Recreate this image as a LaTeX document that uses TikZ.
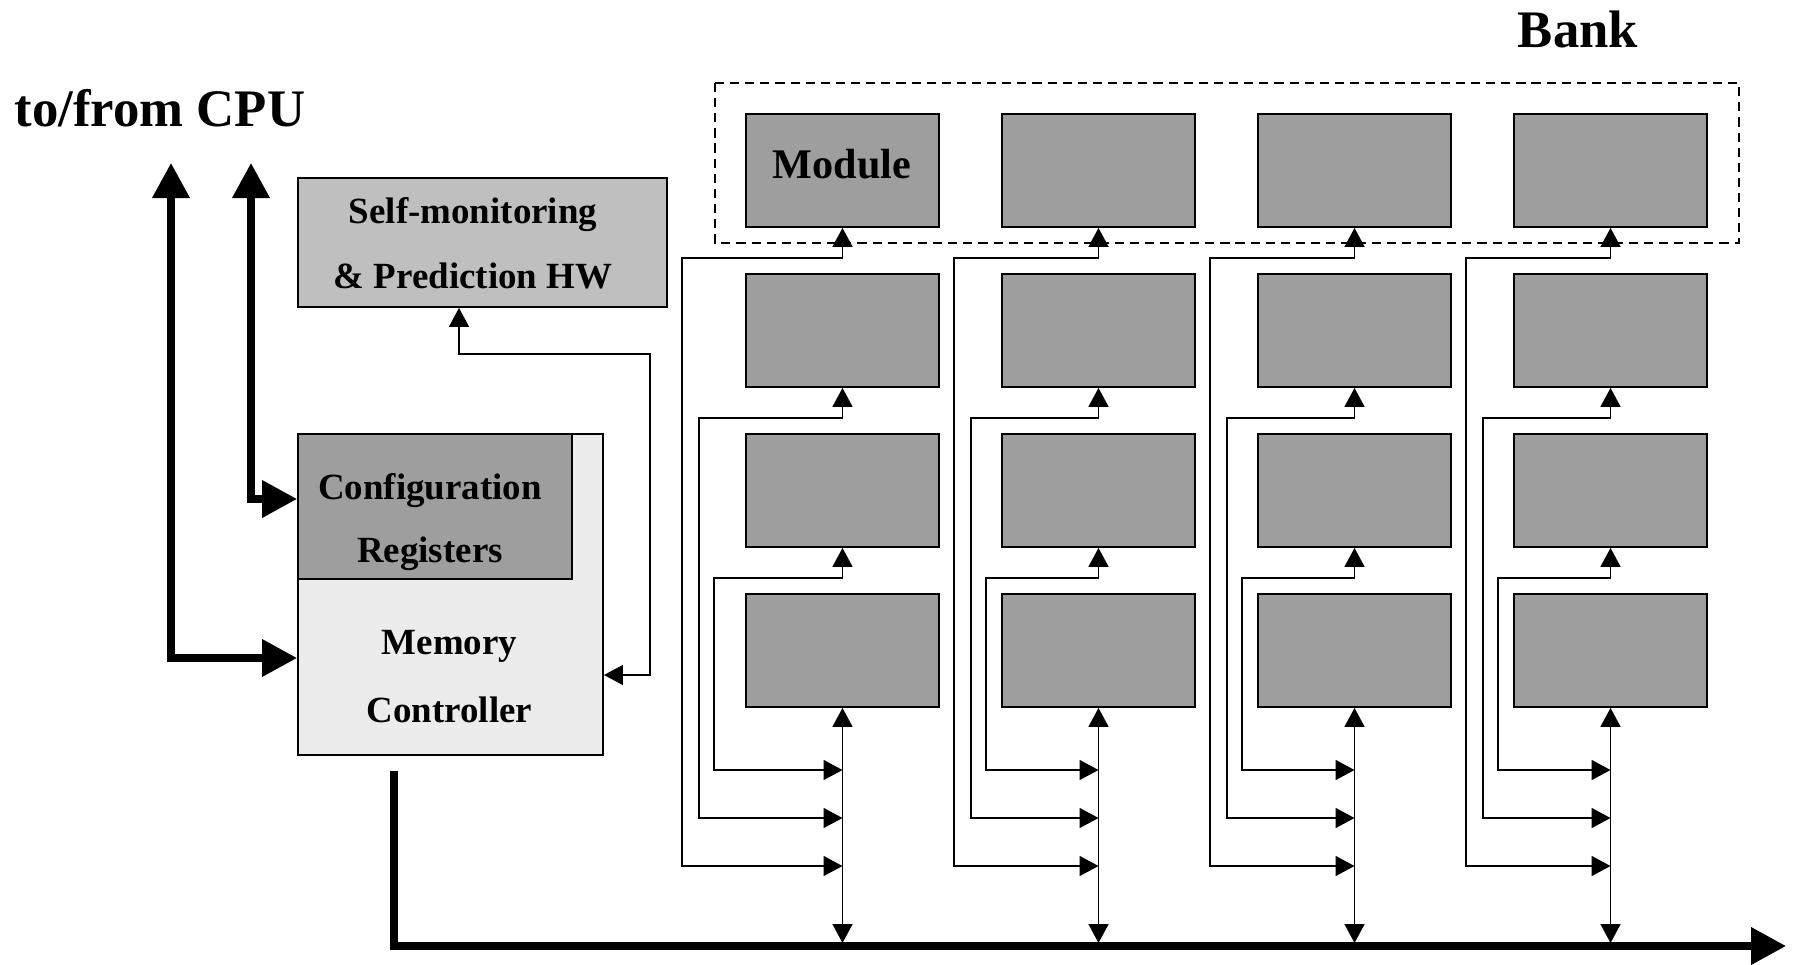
\documentclass[tikz,border=0pt]{standalone}
\usepackage{fontspec}
\setmainfont{Liberation Serif}
\usepackage{tikz}
\usetikzlibrary{arrows.meta}

\definecolor{modgray}{gray}{0.62}
\definecolor{hwgray}{gray}{0.75}
\definecolor{mcgray}{gray}{0.925}

\begin{document}
\begin{tikzpicture}[x=0.01cm, y=-0.01cm,
  box/.style={draw, line width=0.5pt, inner sep=0pt},
  modbox/.style={box, fill=modgray, minimum width=1.93cm, minimum height=1.13cm},
  boxtext/.style={font=\bfseries\fontsize{10.5pt}{#1}\selectfont, align=center, inner sep=0pt},
  bigtext/.style={font=\bfseries\fontsize{15pt}{18pt}\selectfont, inner sep=0pt},
  wire/.style={line width=0.45pt, >={Triangle[length=1.9mm,width=2mm]}},
  bus/.style={line width=2pt, >={Triangle[length=3.5mm,width=3.6mm]}}]

\useasboundingbox (0,0) rectangle (1795,964);

% Headings
\node[bigtext, anchor=base] (cpu) at (160,127) {to/from CPU};
\node[bigtext, anchor=base] (bank) at (1578,48) {Bank};

% Controller side
\node[box, fill=hwgray, minimum width=3.69cm, minimum height=1.29cm] (smon) at (482.5,242.5) {};
\node[boxtext=18.5pt] (smontext) at (473,243) {Self-monitoring\\\& Prediction HW};
\node[box, fill=mcgray, minimum width=3.05cm, minimum height=3.21cm] (mc) at (450.5,594.5) {};
\node[box, fill=modgray, minimum width=2.74cm, minimum height=1.45cm] (cfg) at (435,506.5) {};
\node[boxtext=17.9pt] (cfgtext) at (430,522.5) {Configuration\\Registers};
\node[boxtext=19.3pt] (mctext) at (449.5,677) {Memory\\Controller};

% Module grid, four rows by four columns
\foreach \r in {1,...,4}
  \foreach \k in {0,...,3}
    \node[modbox] (mod-\r-\k) at (842.5+256*\k, 10.5+160*\r) {};
\node[font=\bfseries\fontsize{12pt}{14pt}\selectfont, inner sep=0pt] (modtext) at (842,164) {Module};

% Bank outline round the top row
\draw[line width=0.5pt, dash pattern=on 2.6pt off 1.7pt] (715,83) rectangle (1739,243);

% Wiring of each column
\foreach \k/\sh in {0/16,1/0,2/0,3/0} {
  \pgfmathsetmacro\xa{698-\sh+256*\k}
  \pgfmathsetmacro\xb{715-\sh+256*\k}
  \pgfmathsetmacro\xc{730-\sh+256*\k}
  \draw[wire, <->] (mod-4-\k.south) -- (mod-4-\k.south |- 0,943);
  \draw[wire, <->] (mod-4-\k.south |- 0,770) -| (\xc,578) -| (mod-3-\k.south);
  \draw[wire, <->] (mod-4-\k.south |- 0,818) -| (\xb,418) -| (mod-2-\k.south);
  \draw[wire, <->] (mod-4-\k.south |- 0,866) -| (\xa,258) -| (mod-1-\k.south);
}

% Memory bus
\coordinate (busstart) at (394,771);
\coordinate (busend) at (1786,946);
\draw[bus, ->] (busstart) |- (busend);

% Links to the CPU
\coordinate (cpuA) at (171,163);
\coordinate (cpuB) at (251,163);
\draw[bus, <->] (mc.west |- 0,658) -| (cpuA);
\draw[bus, <->] (cfg.west |- 0,499) -| (cpuB);

% Feedback between controller and monitor
\draw[wire, <->] (smon.south -| 459,0) |- (650,354) |- (mc.east |- 0,675);

\end{tikzpicture}
\end{document}
